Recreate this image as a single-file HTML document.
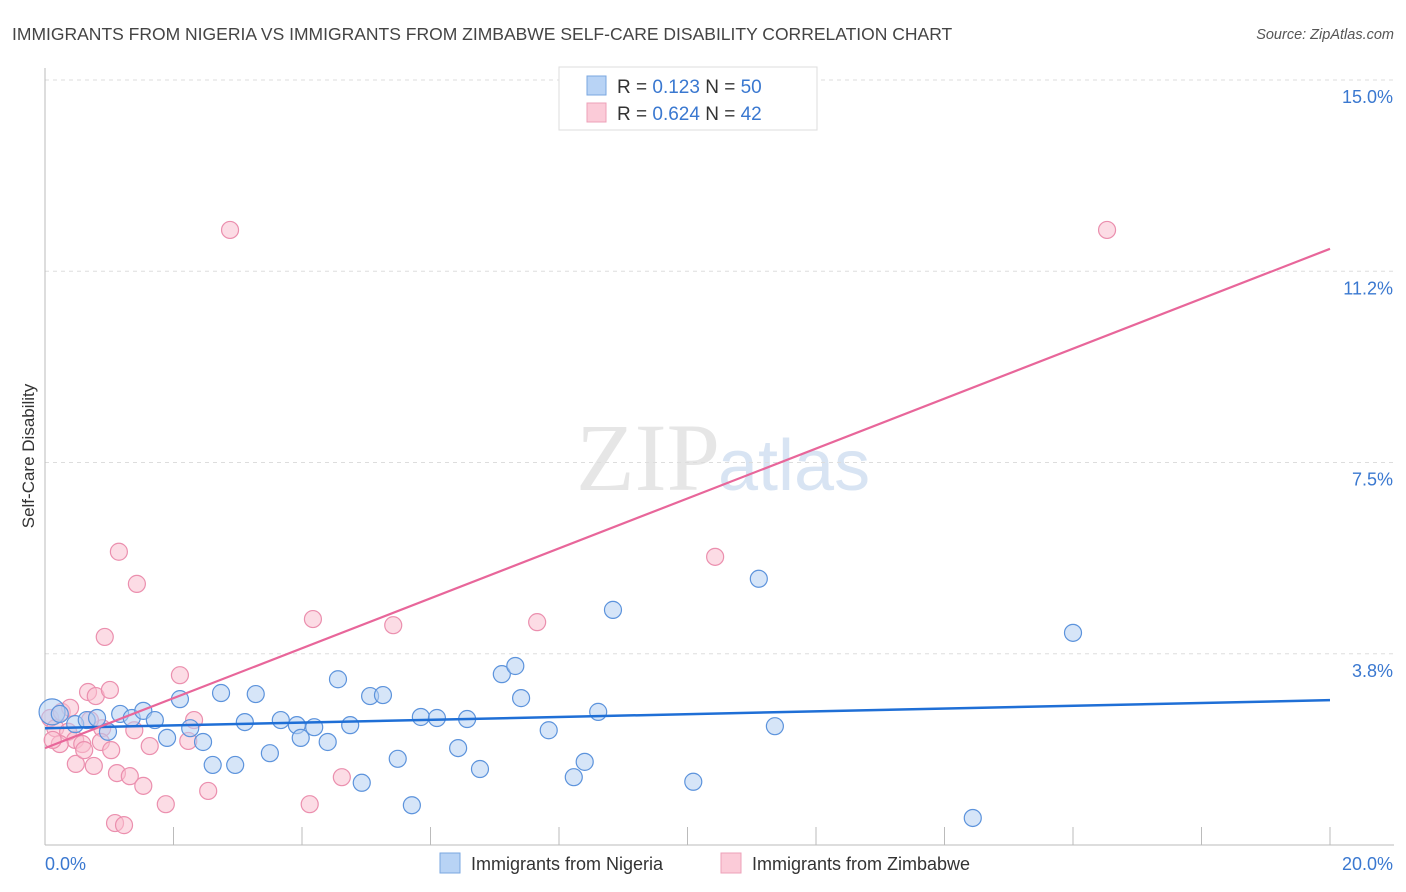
<!DOCTYPE html>
<html><head><meta charset="utf-8"><style>
body{margin:0;background:#fff;font-family:"Liberation Sans",sans-serif}
svg{display:block}
</style></head><body>
<svg id="c" width="1406" height="892">
<text x="12" y="40" font-size="17.5" fill="#444">IMMIGRANTS FROM NIGERIA VS IMMIGRANTS FROM ZIMBABWE SELF-CARE DISABILITY CORRELATION CHART</text>
<text x="1394" y="39" font-size="14.5" fill="#555" font-style="italic" text-anchor="end">Source: ZipAtlas.com</text>
<text x="720" y="490" font-size="96" fill="#e6e6e6" text-anchor="end" font-family="Liberation Serif,serif">ZIP</text>
<text x="718" y="490" font-size="72" fill="#d8e4f3">atlas</text>
<text x="34" y="456" font-size="17" fill="#333" text-anchor="middle" transform="rotate(-90 34 456)">Self-Care Disability</text>
<g id="grid"></g><g id="pts"></g><g id="lines"></g>
<g>
<rect x="559" y="67" width="258" height="63" fill="#fff" stroke="#ddd"/>
<rect x="587" y="76" width="19" height="19" fill="#b8d3f5" stroke="#7aa7e0"/>
<rect x="587" y="103" width="19" height="19" fill="#fbcbd8" stroke="#eea0b8"/>
<text x="617" y="93" font-size="19" fill="#333">R = <tspan fill="#3a78d0"> 0.123</tspan>   N = <tspan fill="#3a78d0">50</tspan></text>
<text x="617" y="120" font-size="19" fill="#333">R = <tspan fill="#3a78d0">0.624</tspan>   N = <tspan fill="#3a78d0"> 42</tspan></text>
</g>
<g>
<rect x="440" y="853" width="20" height="20" fill="#b8d3f5" stroke="#7aa7e0"/>
<text x="471" y="870" font-size="18" fill="#333">Immigrants from Nigeria</text>
<rect x="721" y="853" width="20" height="20" fill="#fbcbd8" stroke="#eea0b8"/>
<text x="752" y="870" font-size="18" fill="#333">Immigrants from Zimbabwe</text>
</g>
</svg>
<script>
const yTicks=[3.75,7.5,11.25,15];
const yTickLabels=["3.8%","7.5%","11.2%","15.0%"];
const xLabels=["0.0%","20.0%"];
const nigX=[0.11,0.23,0.47,0.65,0.81,0.98,1.17,1.35,1.53,1.71,1.90,2.10,2.26,2.46,2.61,2.74,2.96,3.11,3.28,3.50,3.67,3.92,3.98,4.19,4.40,4.56,4.75,4.93,5.06,5.26,5.49,5.71,5.85,6.10,6.43,6.57,6.77,7.11,7.32,7.41,7.84,8.23,8.40,8.61,8.84,10.09,11.11,11.36,14.44,16.00];
const nigY=[2.61,2.57,2.37,2.45,2.49,2.22,2.57,2.49,2.63,2.45,2.10,2.86,2.29,2.02,1.57,2.98,1.57,2.41,2.96,1.80,2.45,2.35,2.10,2.31,2.02,3.25,2.35,1.22,2.92,2.94,1.69,0.78,2.51,2.49,1.90,2.47,1.49,3.35,3.51,2.88,2.25,1.33,1.63,2.61,4.61,1.24,5.22,2.33,0.53,4.16];
const zimX=[0.08,0.16,0.26,0.36,0.47,0.58,0.67,0.79,0.89,1.01,0.48,0.76,0.87,1.03,1.15,1.43,0.93,1.12,1.32,1.53,1.39,1.63,1.88,2.10,2.23,2.32,2.54,2.88,4.17,4.62,4.12,5.42,7.66,10.43,16.53,1.09,1.23,0.23,0.61,0.39,0.12,0.70];
const zimY=[2.49,2.29,2.61,2.22,2.06,1.98,3.00,2.92,2.29,3.04,1.59,1.55,2.02,1.86,5.75,5.12,4.08,1.41,1.35,1.16,2.25,1.94,0.80,3.33,2.04,2.45,1.06,12.06,4.43,1.33,0.80,4.31,4.37,5.65,12.06,0.43,0.39,1.98,1.86,2.69,2.06,2.45];
const nigTrend=[2.29,2.84];
const zimTrend=[1.90,11.69];
const NS="http://www.w3.org/2000/svg";
const X0=45,X1=1330,Y0=845;
const sx=v=>X0+v/20*(X1-X0);
const sy=v=>Y0-v*51.0;
function mk(t,a,p){const e=document.createElementNS(NS,t);for(const k in a)e.setAttribute(k,a[k]);p.appendChild(e);return e;}
const g=document.getElementById('grid');
yTicks.forEach((t,i)=>{
 const l=mk('line',{x1:X0,x2:1394,y1:sy(t),y2:sy(t),stroke:'#ddd','stroke-dasharray':'4,4'},g);
 
 
 const tx=mk('text',{x:1393,y:sy(t)+23,'font-size':18,fill:'#3a78d0','text-anchor':'end'},g);
 tx.textContent=yTickLabels[i];
 
 
});
mk('line',{x1:X0,x2:X0,y1:68,y2:Y0,stroke:'#bbb'},g);
mk('line',{x1:X0,x2:1394,y1:Y0,y2:Y0,stroke:'#bbb'},g);
for(let i=1;i<=10;i++){const l=mk('line',{x1:sx(i*2),x2:sx(i*2),y1:Y0,y2:Y0-18,stroke:'#bbb'},g);
 
 }
[[0,'start',X0],[20,'end',1393]].forEach((d,i)=>{const t=mk('text',{x:d[2],y:870,'font-size':18,fill:'#3a78d0','text-anchor':d[1]},g);t.textContent=xLabels[i];
 
 });
const p=document.getElementById('pts');
function dots(xs,ys,fill,stroke,name){xs.forEach((x,i)=>{const c=mk('circle',{cx:sx(x),cy:sy(ys[i]),r:(i==0&&name=='nigeria-point')?13:8.5,fill:fill,'fill-opacity':0.55,stroke:stroke,'stroke-width':1.2},p);
 
 });}
dots(zimX,zimY,'#f9bfd0','#eb8fae','zimbabwe-point');
dots(nigX,nigY,'#b5cff3','#5c93dc','nigeria-point');
const L=document.getElementById('lines');
const a=mk('line',{x1:sx(0),x2:sx(20),y1:sy(nigTrend[0]),y2:sy(nigTrend[1]),stroke:'#1f6fd6','stroke-width':2.5},L);


const b=mk('line',{x1:sx(0),x2:sx(20),y1:sy(zimTrend[0]),y2:sy(zimTrend[1]),stroke:'#e8669a','stroke-width':2.2},L);


</script>
</body></html>
